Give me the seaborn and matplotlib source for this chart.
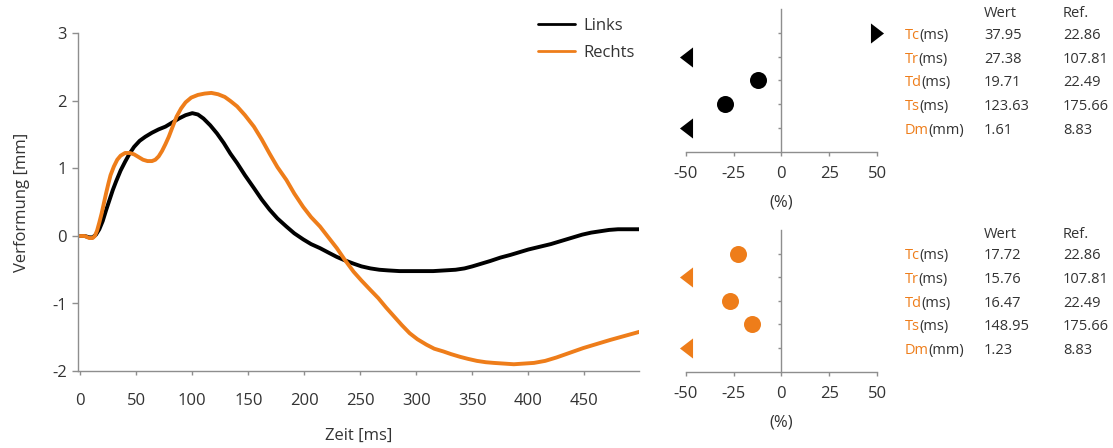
import numpy as np
import pandas as pd
import matplotlib
matplotlib.use("Agg")
import matplotlib.pyplot as plt
import matplotlib.transforms as mtransforms
from matplotlib.markers import MarkerStyle
import seaborn as sns

# Verformungskurven (Zeit in ms, Verformung in mm)
zeit_links = [0, 4, 8, 11, 14, 17, 20, 23, 26, 29, 32, 36, 40, 44, 48, 53, 58,
              64, 70, 76, 82, 88, 94, 100, 105, 110, 116, 122, 128, 134, 140,
              147, 155, 162, 169, 176, 184, 191, 199, 206, 214, 222, 229, 236,
              244, 251, 259, 267, 275, 285, 295, 305, 315, 325, 335, 343, 350,
              358, 366, 375, 384, 392, 400, 410, 420, 430, 440, 448, 456, 464,
              472, 480, 490, 499]
verf_links = [0.0, 0.0, -0.02, -0.02, 0.02, 0.10, 0.22, 0.38, 0.53, 0.68, 0.81,
              0.97, 1.10, 1.22, 1.32, 1.41, 1.47, 1.53, 1.58, 1.62, 1.68, 1.74,
              1.79, 1.82, 1.80, 1.74, 1.64, 1.52, 1.38, 1.22, 1.08, 0.90, 0.71,
              0.54, 0.39, 0.26, 0.14, 0.04, -0.05, -0.12, -0.18, -0.25, -0.31,
              -0.36, -0.41, -0.45, -0.48, -0.50, -0.51, -0.52, -0.52, -0.52,
              -0.52, -0.51, -0.50, -0.48, -0.45, -0.41, -0.37, -0.32, -0.28,
              -0.24, -0.20, -0.16, -0.12, -0.07, -0.02, 0.02, 0.05, 0.07, 0.09,
              0.10, 0.10, 0.10]

zeit_rechts = [0, 4, 8, 11, 13, 15, 17, 19, 21, 23, 25, 27, 30, 33, 36, 40, 44,
               48, 52, 56, 60, 64, 67, 70, 73, 76, 79, 82, 86, 90, 94, 99, 105,
               111, 117, 123, 129, 134, 140, 147, 155, 162, 169, 176, 184, 191,
               199, 206, 214, 221, 229, 236, 244, 251, 259, 266, 273, 280, 287,
               294, 301, 309, 316, 324, 331, 339, 346, 354, 362, 369, 378, 387,
               396, 405, 415, 425, 437, 449, 461, 473, 486, 499]
verf_rechts = [0.0, 0.0, -0.03, -0.03, 0.0, 0.08, 0.20, 0.33, 0.48, 0.63, 0.77,
               0.90, 1.03, 1.13, 1.19, 1.23, 1.23, 1.21, 1.17, 1.13, 1.11, 1.11,
               1.13, 1.18, 1.26, 1.36, 1.47, 1.60, 1.77, 1.89, 1.98, 2.05, 2.09,
               2.11, 2.12, 2.10, 2.06, 2.00, 1.92, 1.79, 1.62, 1.43, 1.22, 1.02,
               0.83, 0.63, 0.43, 0.28, 0.14, -0.01, -0.18, -0.35, -0.53, -0.66,
               -0.80, -0.92, -1.06, -1.19, -1.32, -1.44, -1.53, -1.61, -1.67,
               -1.71, -1.75, -1.79, -1.82, -1.85, -1.87, -1.88, -1.89, -1.90,
               -1.89, -1.88, -1.85, -1.80, -1.73, -1.66, -1.60, -1.54, -1.48,
               -1.42]

# Kennwerte je Seite und Referenzwerte
parameter = ["Tc", "Tr", "Td", "Ts", "Dm"]
einheiten = ["(ms)", "(ms)", "(ms)", "(ms)", "(mm)"]
wert_links = [37.95, 27.38, 19.71, 123.63, 1.61]
wert_rechts = [17.72, 15.76, 16.47, 148.95, 1.23]
referenz = [22.86, 107.81, 22.49, 175.66, 8.83]

x_ticks_main = [0, 50, 100, 150, 200, 250, 300, 350, 400, 450]
y_ticks_main = [-2, -1, 0, 1, 2, 3]
pct_ticks = [-50, -25, 0, 25, 50]

SCHWARZ = "#000000"
ORANGE = "#EE7D1A"
GRAU = "#8E8E8E"
TEXT = "#333333"

sns.set_theme(style="ticks")
plt.rcParams["font.family"] = ["Open Sans", "DejaVu Sans"]
plt.rcParams["axes.unicode_minus"] = False
plt.rcParams["lines.solid_joinstyle"] = "round"
plt.rcParams["lines.solid_capstyle"] = "round"
plt.rcParams["text.color"] = TEXT
plt.rcParams["axes.labelcolor"] = TEXT
plt.rcParams["xtick.color"] = GRAU
plt.rcParams["ytick.color"] = GRAU
plt.rcParams["xtick.labelcolor"] = TEXT
plt.rcParams["ytick.labelcolor"] = TEXT

W, H = 1113, 448
fig = plt.figure(figsize=(W / 100, H / 100), dpi=100)


def px_axes(left, top, right, bottom):
    return fig.add_axes([left / W, 1 - bottom / H, (right - left) / W, (bottom - top) / H])


# ---------- Hauptdiagramm ----------
ax = px_axes(77.7, 33.5, 639.3, 371)
kurven = pd.concat([
    pd.DataFrame({"Zeit": zeit_links, "Verformung": verf_links, "Seite": "Links"}),
    pd.DataFrame({"Zeit": zeit_rechts, "Verformung": verf_rechts, "Seite": "Rechts"}),
], ignore_index=True)
sns.lineplot(data=kurven, x="Zeit", y="Verformung", hue="Seite",
             palette={"Links": SCHWARZ, "Rechts": ORANGE},
             estimator=None, sort=False, linewidth=2.8, ax=ax)
ax.set_xlim(-2.3, 499)
ax.set_ylim(-2, 3)
ax.set_xticks(x_ticks_main)
ax.set_yticks(y_ticks_main)
ax.set_yticklabels([str(v) for v in y_ticks_main])
ax.tick_params(axis="x", length=3, width=1, pad=13, labelsize=12)
ax.tick_params(axis="y", length=4.3, width=1, pad=3.5, labelsize=12)
for s in ["top", "right"]:
    ax.spines[s].set_visible(False)
for s in ["left", "bottom"]:
    ax.spines[s].set_color(GRAU)
    ax.spines[s].set_linewidth(1)
ax.set_xlabel("Zeit [ms]", fontsize=12, va="top")
ax.xaxis.set_label_coords(0.5, -0.168)
ax.set_ylabel("Verformung [mm]", fontsize=12)
ax.yaxis.set_label_coords(-0.085, 0.5)

handles, labels = ax.get_legend_handles_labels()
leg = ax.legend(handles, labels, loc="upper left", bbox_to_anchor=(538 / W, 1 - 18 / H),
                bbox_transform=fig.transFigure, frameon=False, fontsize=12,
                handlelength=2.2, handletextpad=0.55, borderpad=0, borderaxespad=0,
                labelspacing=0.66)
for line in leg.get_lines():
    line.set_linewidth(2)

# ---------- Abweichung zur Referenz ----------
DREIECK_LINKS = MarkerStyle([(-0.65, 0), (0.65, 1), (0.65, -1), (-0.65, 0)])
DREIECK_RECHTS = MarkerStyle([(0.65, 0), (-0.65, 1), (-0.65, -1), (0.65, 0)])


def abweichung(axp, werte, farbe):
    pct = [(w / r - 1) * 100 for w, r in zip(werte, referenz)]
    zeilen = list(range(len(parameter), 0, -1))
    df = pd.DataFrame({"pct": np.clip(pct, -50, 50), "zeile": zeilen, "roh": pct})
    innen = df[(df.roh >= -50) & (df.roh <= 50)]
    unten = df[df.roh < -50]
    oben = df[df.roh > 50]
    common = dict(x="pct", y="zeile", color=farbe, linewidth=0, ax=axp,
                  legend=False, clip_on=False)
    if len(innen):
        sns.scatterplot(data=innen, marker="o", s=150, **common)
    if len(unten):
        sns.scatterplot(data=unten, marker=DREIECK_LINKS, s=210, **common)
    if len(oben):
        sns.scatterplot(data=oben, marker=DREIECK_RECHTS, s=210, **common)

    axp.set_xlim(-50, 50)
    axp.set_ylim(0, 6)
    axp.set_xticks(pct_ticks)
    axp.set_yticks(zeilen)
    axp.set_yticklabels([])
    axp.spines["left"].set_position(("data", 0))
    for s in ["top", "right"]:
        axp.spines[s].set_visible(False)
    for s in ["left", "bottom"]:
        axp.spines[s].set_color(GRAU)
        axp.spines[s].set_linewidth(1)
    axp.tick_params(axis="x", length=3, width=1, pad=7, labelsize=12)
    axp.tick_params(axis="y", length=2, width=1)
    axp.set_xlabel("(%)", fontsize=12, va="top")
    axp.xaxis.set_label_coords(0.5, -0.30)
    axp.set_ylabel("")

    # Tabelle rechts neben dem Diagramm
    trans = mtransforms.blended_transform_factory(fig.transFigure, axp.transData)
    x_name, x_wert, x_ref = 905 / W, 984 / W, 1063 / W
    fs = 10.5
    dz = 0.1
    axp.text(x_wert, 5.83, "Wert", transform=trans, fontsize=fs, va="center", ha="left")
    axp.text(x_ref, 5.83, "Ref.", transform=trans, fontsize=fs, va="center", ha="left")
    for name, einheit, w, r, z in zip(parameter, einheiten, werte, referenz, zeilen):
        t = axp.text(x_name, z - dz, name, transform=trans, fontsize=fs,
                     va="center", ha="left", color=ORANGE)
        axp.annotate(einheit, xy=(1, 0), xycoords=t, xytext=(-0.4, 0),
                     textcoords="offset points", fontsize=fs,
                     va="bottom", ha="left", color=TEXT)
        axp.text(x_wert, z - dz, f"{w:.2f}", transform=trans, fontsize=fs,
                 va="center", ha="left")
        axp.text(x_ref, z - dz, f"{r:.2f}", transform=trans, fontsize=fs,
                 va="center", ha="left")


ax_l = px_axes(685.7, 9.3, 877, 151.7)
abweichung(ax_l, wert_links, SCHWARZ)
ax_r = px_axes(685.7, 230, 877, 371.7)
abweichung(ax_r, wert_rechts, ORANGE)

fig.savefig("out.png", dpi=100)
